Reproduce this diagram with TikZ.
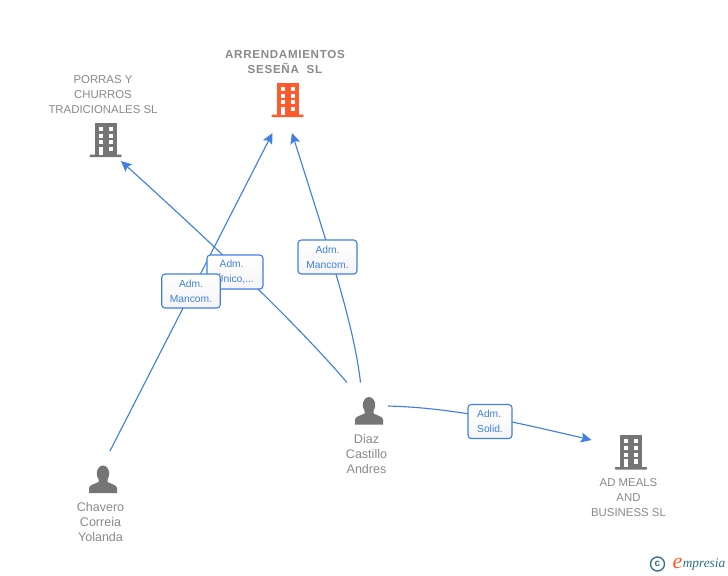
\documentclass[tikz,border=0pt]{standalone}
\usepackage{fontspec}
\setmainfont{Liberation Sans}
\newfontfamily\logofont{Liberation Serif}
\usetikzlibrary{arrows.meta,shadings}
\definecolor{lbl}{HTML}{8A8A8A}
\definecolor{icn}{HTML}{757575}
\definecolor{org}{HTML}{FF5A2B}
\definecolor{lnk}{HTML}{3F80E0}
\definecolor{teal}{HTML}{2F6F88}
\tikzset{
  x=0.75pt,y=-0.75pt,
  gray label/.style={text=lbl,font=\fontsize{8.55pt}{11.25pt}\selectfont,align=center,inner sep=0pt},
  person label/.style={text=lbl,font=\fontsize{9.4pt}{11.25pt}\selectfont,align=center,inner sep=0pt},
  main label/.style={text=lbl,font=\fontsize{8.7pt}{11.25pt}\selectfont\bfseries\addfontfeature{LetterSpace=6},align=center,inner sep=0pt},
  link/.style={draw=lnk,line width=0.85pt,-{Stealth[length=8pt,width=7.5pt,inset=1.6pt]}},
  tag/.style={draw=lnk,line width=0.8pt,rounded corners=2.4pt,top color=white,bottom color=black!4,
    text=lnk,font=\fontsize{7.7pt}{11.25pt}\selectfont,align=center,inner sep=0pt,
    minimum width=#1*0.75pt,minimum height=25.5pt},
  building/.pic={
    \fill[pic actions] (-11,-34) rectangle (11,-2);
    \fill[pic actions,rounded corners=0.5pt] (-16,-2) rectangle (16,0.5);
    \foreach \yy in {-30,-23,-16.5}{
      \fill[white] (-7,\yy) rectangle (-2.7,\yy+4);
      \fill[white] (3,\yy) rectangle (7.2,\yy+4);
    }
    \fill[white] (-7,-10) rectangle (-2.7,-2);
    \fill[white] (3,-10) rectangle (7.2,-5.5);
  },
  person/.pic={
    \fill[pic actions] (0,-19.5) ellipse (6.2 and 8);
    \fill[pic actions] (-14,0) -- (-14,-5) .. controls (-14,-8) and (-8,-9) .. (-4.5,-11)
       -- (-4.5,-15) -- (4.5,-15) -- (4.5,-11) .. controls (8,-9) and (14,-8) .. (14,-5) -- (14,0) -- cycle;
  }
}
\begin{document}
\begin{tikzpicture}
\useasboundingbox (0,0) rectangle (728,575);
\fill[white] (0,0) rectangle (728,575);

% icons
\pic[icn] at (105.5,156.5) {building};
\pic[org] at (287.5,116.5) {building};
\pic[icn] at (631,469) {building};
\pic[icn] at (369,424.5) {person};
\pic[icn] at (103,493) {person};

% labels
\node[main label] (arrlabel) at (285,62) {ARRENDAMIENTOS\\SESEÑA\ \ SL};
\node[gray label] (porlabel) at (103,95) {PORRAS Y\\CHURROS\\TRADICIONALES SL};
\node[gray label] (adlabel) at (628.5,498) {AD MEALS\\AND\\BUSINESS SL};
\node[person label] (dlabel) at (366.5,454) {Diaz\\Castillo\\Andres};
\node[person label] (clabel) at (100.5,522) {Chavero\\Correia\\Yolanda};

% connector ends
\coordinate (porrasin) at (121,161);
\coordinate (arrinA) at (272.5,133);
\coordinate (arrinB) at (292,133);
\coordinate (adin) at (591.5,440);
\coordinate (diazA) at (347,382.5);
\coordinate (diazB) at (360.5,382.5);
\coordinate (diazC) at (388,406);
\coordinate (chav) at (110,451);

% connectors
\draw[link] (diazA) .. controls (290,316) and (195,228) .. (porrasin);
\draw[link] (chav) -- (arrinA);
\draw[link] (diazB) .. controls (354,326) and (331,256) .. (arrinB);
\draw[link] (diazC) .. controls (455,408) and (510,421) .. (adin);

% tags
\node[tag=56] (t2) at (235,272) {Adm.\hspace*{5pt}\\Único,...};
\node[tag=58.5] (t1) at (191,291) {Adm.\\Mancom.};
\node[tag=59] (t3) at (327.5,257) {Adm.\\Mancom.};
\node[tag=44,align=left] (t4) at (490,421.5) {Adm.\\Solid.};

% logo
\node[circle,draw=teal,line width=1pt,minimum size=10.5pt,inner sep=0pt,text=teal,
      font=\fontsize{7.5pt}{7.5pt}\selectfont\bfseries] (copy) at (657.5,564) {c};
\node[text=org,inner sep=0pt,font=\logofont\itshape\fontsize{16.5pt}{16.5pt}\selectfont] (loge) at (677.5,563.5) {e};
\node[text=teal,anchor=west,inner sep=0pt,font=\logofont\itshape\fontsize{10pt}{10pt}\selectfont] (logt) at (682.5,564) {mpresia};
\end{tikzpicture}
\end{document}
